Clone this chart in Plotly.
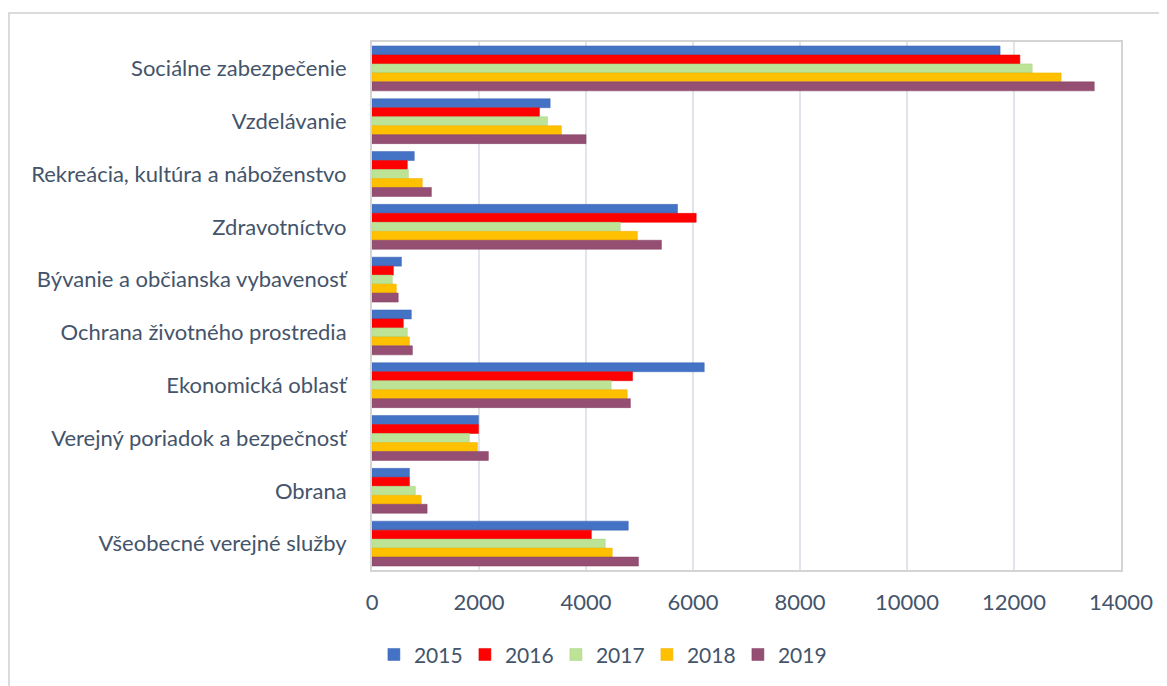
import plotly.graph_objects as go

categories = [
    "Sociálne zabezpečenie",
    "Vzdelávanie",
    "Rekreácia, kultúra a náboženstvo",
    "Zdravotníctvo",
    "Bývanie a občianska vybavenosť",
    "Ochrana životného prostredia",
    "Ekonomická oblasť",
    "Verejný poriadok a bezpečnosť",
    "Obrana",
    "Všeobecné verejné služby",
]

years = ["2015", "2016", "2017", "2018", "2019"]

v2015 = [11740, 3330, 790, 5710, 550, 735, 6210, 1990, 700, 4790]
v2016 = [12110, 3130, 660, 6060, 400, 585, 4870, 1990, 700, 4100]
v2017 = [12340, 3280, 680, 4640, 380, 660, 4470, 1820, 810, 4360]
v2018 = [12880, 3540, 940, 4960, 455, 700, 4770, 1970, 920, 4490]
v2019 = [13500, 4000, 1110, 5410, 490, 755, 4830, 2175, 1030, 4980]

series = [v2015, v2016, v2017, v2018, v2019]
colors = ["#4472C4", "#FF0000", "#BDE396", "#FFC000", "#954F72"]
line_colors = ["#3A64B4", "#E00000", "#A9D282", "#EDB000", "#833F62"]

x_ticks = [0, 2000, 4000, 6000, 8000, 10000, 12000, 14000]
x_tick_labels = ["0", "2000", "4000", "6000", "8000", "10000", "12000", "14000"]

fig = go.Figure()
for name, vals, c, lc in zip(years, series, colors, line_colors):
    fig.add_trace(go.Bar(
        y=categories, x=vals, name=name, orientation="h",
        marker=dict(color=c, line=dict(color=lc, width=0.5)),
    ))

text_color = "#44546A"
font_family = "Lato, 'Open Sans', sans-serif"

# page body has an 8px margin, so figure coordinates are offset by 8px
W, H = 1159, 678
L, R, T, B = 364, 46, 34, 116
pw = W - L - R
ph = H - T - B

fig.update_layout(
    width=W, height=H,
    margin=dict(l=L, r=R, t=T, b=B),
    barmode="group",
    bargap=0.15,
    bargroupgap=0,
    plot_bgcolor="white",
    paper_bgcolor="white",
    font=dict(family=font_family, color=text_color, size=21),
    showlegend=True,
    legend=dict(
        orientation="h",
        xref="container", yref="container",
        x=0.512, xanchor="center",
        y=0.046, yanchor="middle",
        font=dict(size=21, color=text_color),
        itemwidth=30,
        entrywidth=46, entrywidthmode="pixels",
        traceorder="normal",
    ),
    xaxis=dict(
        range=[0, 14000],
        tickvals=x_ticks,
        ticktext=x_tick_labels,
        showgrid=True, gridcolor="#E1E5EB", gridwidth=2,
        zeroline=False,
        showline=True, linecolor="#D4D4D4", linewidth=2, mirror=True,
        ticks="", ticklabelstandoff=12,
        tickfont=dict(size=22, color=text_color),
    ),
    yaxis=dict(
        autorange="reversed",
        showgrid=False,
        showline=True, linecolor="#D4D4D4", linewidth=2, mirror=True,
        ticks="", ticklabelstandoff=19,
        tickfont=dict(size=22, color=text_color),
    ),
    shapes=[
        dict(
            type="rect", xref="paper", yref="paper",
            x0=(1 - L) / pw, x1=1.5,
            y0=-1.0, y1=(H - B - 5) / ph,
            line=dict(color="#D0D0D0", width=1.5),
            fillcolor="rgba(0,0,0,0)",
            layer="below",
        )
    ],
)

fig.write_html("out.html")
